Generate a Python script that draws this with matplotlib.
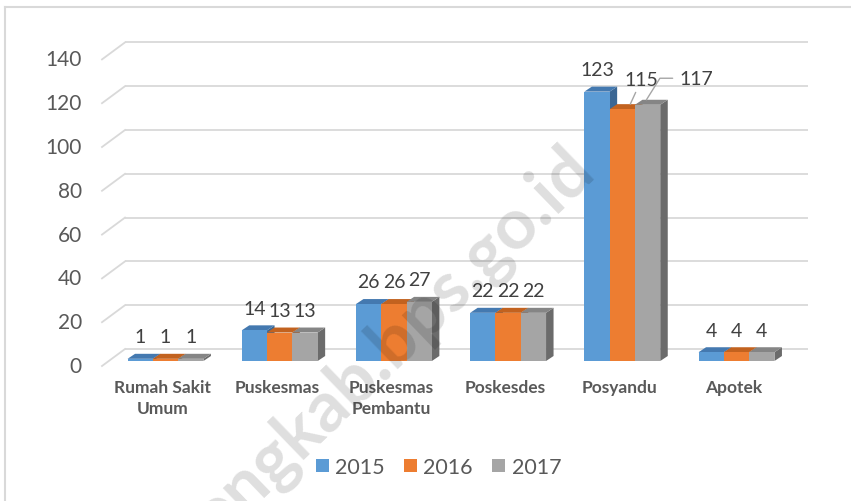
import matplotlib.pyplot as plt
from matplotlib.patches import Polygon, Patch
from matplotlib.lines import Line2D

plt.rcParams['font.family'] = ['Lato', 'DejaVu Sans']

# data
categories = ['Rumah Sakit\nUmum', 'Puskesmas', 'Puskesmas\nPembantu',
              'Poskesdes', 'Posyandu', 'Apotek']
years = ['2015', '2016', '2017']
v2015 = [1, 14, 26, 22, 123, 4]
v2016 = [1, 13, 26, 22, 115, 4]
v2017 = [1, 13, 27, 22, 117, 4]
yticks = [0, 20, 40, 60, 80, 100, 120, 140]

series = [v2015, v2016, v2017]
front = ['#5B9BD5', '#ED7D31', '#A5A5A5']
top = ['#4479B0', '#C2621F', '#858585']
side = ['#3B6794', '#A9551B', '#6B6B6B']

W, H = 851, 502
# pixel layout of the chart (category step / value scale)
X0, XS = 165.5, 114.2
Y0, YS = 362.0, 2.19


def px(x):
    return (x - X0) / XS


def py(y):
    return (Y0 - y) / YS


fig = plt.figure(figsize=(W / 100, H / 100), dpi=100)
ax = fig.add_axes([0, 0, 1, 1])
ax.set_xlim(px(0), px(W))
ax.set_ylim(py(H), py(0))
ax.axis('off')

# gridlines with the 3d floor slant
back_dy = 12 / YS
slant_dy = 17 / YS
for g in yticks:
    yb = g + back_dy
    ax.plot([px(125), px(808)], [yb, yb], color='#D9D9D9', lw=1.3, zorder=1,
            solid_capstyle='butt')
    ax.plot([px(102), px(125)], [yb - slant_dy, yb], color='#D9D9D9', lw=1.3,
            zorder=1)
    ax.text(px(82), yb - slant_dy, str(g), ha='right', va='center',
            fontsize=15, color='#595959')

# bars
bw = 25.3 / XS
ddx = 7.5 / XS
ddy = 5 / YS
for s, vals in enumerate(series):
    for i, v in enumerate(vals):
        xl = i + (s - 1.5) * bw
        xr = xl + bw
        z = 2 + s
        ax.add_patch(Polygon([(xr, 0), (xr, v), (xr + ddx, v + ddy), (xr + ddx, ddy)],
                             closed=True, facecolor=side[s], edgecolor='none', zorder=z))
        ax.add_patch(Polygon([(xl, v), (xr, v), (xr + ddx, v + ddy), (xl + ddx, v + ddy)],
                             closed=True, facecolor=top[s], edgecolor='none', zorder=z))
    ax.bar([i + (s - 1) * bw for i in range(len(vals))], vals, width=bw,
           color=front[s], zorder=2 + s + 0.5)

# data labels
for s, vals in enumerate(series):
    for i, v in enumerate(vals):
        xc = i + (s - 1) * bw
        if categories[i] == 'Posyandu' and s == 1:
            ax.annotate(str(v), xy=(xc + 0.07, v + ddy), xytext=(8, 17.5),
                        textcoords='offset points', ha='center', va='center',
                        fontsize=14, color='#404040', zorder=8,
                        arrowprops=dict(arrowstyle='-', color='#A6A6A6', lw=1,
                                        shrinkA=1, shrinkB=0))
        elif categories[i] == 'Posyandu' and s == 2:
            ax.annotate(str(v), xy=(xc - 0.01, v + ddy), xytext=(36, 15.5),
                        textcoords='offset points', ha='center', va='center',
                        fontsize=14, color='#404040', zorder=8,
                        arrowprops=dict(arrowstyle='-', color='#A6A6A6', lw=1,
                                        shrinkA=3, shrinkB=0,
                                        connectionstyle='angle,angleA=0,angleB=58,rad=0'))
        else:
            ax.annotate(str(v), xy=(xc, v), xytext=(0, 16),
                        textcoords='offset points', ha='center', va='center',
                        fontsize=14, color='#404040', zorder=8)

# category labels
for i, c in enumerate(categories):
    ax.text(i - 3 / XS, py(380), c, ha='center', va='top', fontsize=12.5,
            fontweight='bold', color='#595959', linespacing=1.4)

# legend
handles = [Patch(facecolor=c, edgecolor='none') for c in front]
ax.legend(handles, years, loc='center', bbox_to_anchor=(438.5 / W, 1 - 468 / H),
          bbox_transform=fig.transFigure, ncol=3, frameon=False, fontsize=15.5,
          handlelength=0.6, handleheight=0.6, handletextpad=0.3,
          columnspacing=0.9, labelcolor='#595959', borderaxespad=0)

# chart border (only top and left visible)
fig.add_artist(Line2D([5 / W, 5 / W], [0, 1 - 8 / H], transform=fig.transFigure,
                      color='#D9D9D9', lw=1.5))
fig.add_artist(Line2D([5 / W, 1], [1 - 8 / H, 1 - 8 / H], transform=fig.transFigure,
                      color='#D9D9D9', lw=1.5))

# watermark
fig.text(598 / W, 1 - 174 / H, 'engkab.bps.go.id', rotation=44,
         rotation_mode='anchor', ha='right', va='baseline', fontsize=51,
         fontweight='bold', color='black', alpha=0.13, zorder=20)

fig.savefig('out.png', dpi=100)
